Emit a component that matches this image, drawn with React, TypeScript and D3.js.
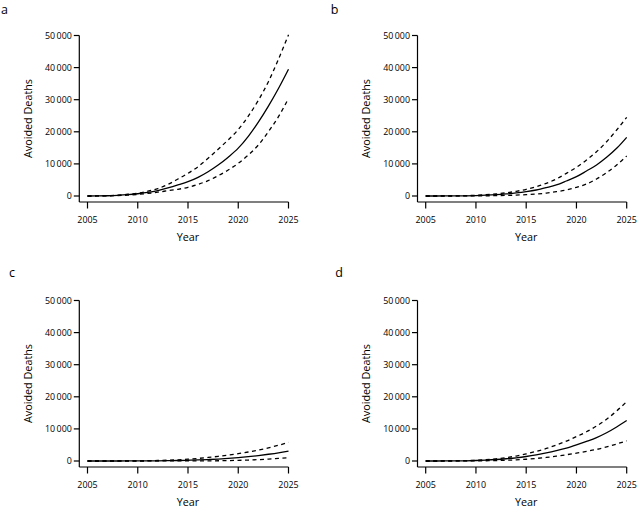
import React from "react";
import * as d3 from "d3";

const years = [2005, 2006, 2007, 2008, 2009, 2010, 2011, 2012, 2013, 2014, 2015, 2016, 2017, 2018, 2019, 2020, 2021, 2022, 2023, 2024, 2025];

const aMid = [0, 20, 80, 200, 400, 700, 1100, 1700, 2500, 3430, 4460, 5820, 7570, 9650, 12100, 14900, 18600, 23000, 28000, 33500, 39500];
const aHi = [0, 30, 110, 280, 540, 900, 1500, 2300, 3600, 5300, 7070, 9130, 11740, 14550, 17500, 20700, 24900, 29800, 35600, 42600, 50200];
const aLo = [0, 12, 50, 130, 280, 500, 800, 1200, 1650, 2090, 2710, 3640, 4770, 6320, 8100, 10180, 12770, 15890, 20030, 24700, 30400];

const bMid = [0, 2, 8, 25, 60, 130, 250, 420, 650, 950, 1350, 1870, 2600, 3430, 4670, 6020, 7790, 9660, 12040, 14850, 18270];
const bHi = [0, 4, 15, 45, 110, 220, 400, 650, 1000, 1450, 2080, 2900, 3950, 5300, 7060, 8930, 11210, 13800, 16920, 20560, 24500];
const bLo = [0, 1, 3, 8, 15, 30, 60, 110, 180, 280, 420, 620, 900, 1340, 1870, 2710, 3740, 5300, 7270, 9660, 12460];

const cMid = [0, 0, 2, 5, 10, 20, 35, 60, 100, 150, 230, 320, 450, 600, 800, 1050, 1350, 1700, 2100, 2550, 3100];
const cHi = [0, 1, 4, 10, 25, 50, 90, 150, 250, 380, 560, 800, 1100, 1450, 1850, 2300, 2800, 3400, 4100, 4900, 5800];
const cLo = [0, 0, 0, 1, 3, 5, 8, 10, 12, 14, 15, 30, 50, 80, 130, 200, 300, 430, 600, 800, 1000];

const dMid = [0, 2, 10, 30, 70, 150, 280, 460, 700, 1000, 1400, 1900, 2500, 3200, 4000, 5000, 6100, 7300, 8800, 10600, 12600];
const dHi = [0, 4, 18, 55, 120, 220, 400, 680, 1050, 1550, 2200, 3000, 3900, 5000, 6200, 7600, 9100, 10900, 13000, 15600, 18500];
const dLo = [0, 1, 4, 10, 20, 40, 80, 140, 230, 360, 550, 800, 1100, 1500, 1950, 2450, 3000, 3600, 4400, 5300, 6300];

const panelLabels = ["a", "b", "c", "d"];
const xTicks = [2005, 2010, 2015, 2020, 2025];
const yTicks = [0, 10000, 20000, 30000, 40000, 50000];
const xTitle = "Year";
const yTitle = "Avoided Deaths";

const panels = [
  { label: panelLabels[0], mid: aMid, hi: aHi, lo: aLo, ox: 0, oy: 0, lx: 1, ly: 13.8 },
  { label: panelLabels[1], mid: bMid, hi: bHi, lo: bLo, ox: 338.2, oy: 0, lx: 330.7, ly: 13.8 },
  { label: panelLabels[2], mid: cMid, hi: cHi, lo: cLo, ox: 0, oy: 265, lx: 9, ly: 276.7 },
  { label: panelLabels[3], mid: dMid, hi: dHi, lo: dLo, ox: 338.2, oy: 265, lx: 335.3, ly: 276.7 },
];

const FONT = "'Open Sans', 'DejaVu Sans', sans-serif";
const fmt = d3.formatLocale({ decimal: ".", thousands: "\u2009", grouping: [3], currency: ["", ""] }).format(",d");

function Panel({ p }: { p: (typeof panels)[number] }) {
  const x = d3.scaleLinear().domain([2005, 2025]).range([p.ox + 87.5, p.ox + 288.5]);
  const y = d3.scaleLinear().domain([0, 50000]).range([p.oy + 196, p.oy + 35.5]);
  const axX = p.ox + 79.3;
  const axY = p.oy + 202;
  const line = d3
    .line<number>()
    .x((_, i) => x(years[i]))
    .y((v) => y(v))
    .curve(d3.curveMonotoneX);
  return (
    <g>
      <text x={p.lx} y={p.ly} fontSize={12.5} fontFamily={FONT} fill="#000">
        {p.label}
      </text>
      <line x1={axX} x2={axX} y1={y(50000)} y2={axY} stroke="#000" strokeWidth={1.2} />
      <line x1={axX} x2={x(2025)} y1={axY} y2={axY} stroke="#000" strokeWidth={1.2} />
      {yTicks.map((t) => (
        <g key={"y" + t}>
          <line x1={axX - 5.5} x2={axX} y1={y(t)} y2={y(t)} stroke="#000" strokeWidth={1.2} />
          <text
            x={axX - 7.5}
            y={y(t)}
            dy="0.35em"
            textAnchor="end"
            fontSize={8.9}
            fontFamily={FONT}
            fill="#000"
          >
            {fmt(t)}
          </text>
        </g>
      ))}
      {xTicks.map((t) => (
        <g key={"x" + t}>
          <line x1={x(t)} x2={x(t)} y1={axY} y2={axY + 6.5} stroke="#000" strokeWidth={1.2} />
          <text x={x(t)} y={p.oy + 222.5} textAnchor="middle" fontSize={8.9} fontFamily={FONT} fill="#000">
            {t}
          </text>
        </g>
      ))}
      <text
        x={(x(2005) + x(2025)) / 2}
        y={p.oy + 241}
        textAnchor="middle"
        fontSize={10.8}
        fontFamily={FONT}
        fill="#000"
      >
        {xTitle}
      </text>
      <text
        transform={`translate(${p.ox + 31.5},${p.oy + 118.5}) rotate(-90)`}
        textAnchor="middle"
        fontSize={10.8}
        fontFamily={FONT}
        fill="#000"
      >
        {yTitle}
      </text>
      <path d={line(p.hi) || ""} fill="none" stroke="#000" strokeWidth={1.3} strokeDasharray="4,3.5" />
      <path d={line(p.lo) || ""} fill="none" stroke="#000" strokeWidth={1.3} strokeDasharray="4,3.5" />
      <path d={line(p.mid) || ""} fill="none" stroke="#000" strokeWidth={1.3} />
    </g>
  );
}

export default function App() {
  return (
    <svg
      width={638}
      height={508}
      viewBox="0 0 638 508"
      style={{ position: "absolute", left: 0, top: 0, display: "block", background: "#fff" }}
    >
      <rect x={0} y={0} width={638} height={508} fill="#fff" />
      {panels.map((p) => (
        <Panel key={p.label} p={p} />
      ))}
    </svg>
  );
}
